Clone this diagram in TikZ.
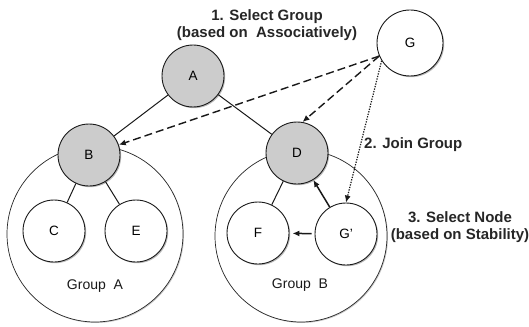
\documentclass[tikz,border=0pt]{standalone}
\usepackage{fontspec}
\setmainfont{Liberation Sans}
\usetikzlibrary{arrows.meta,shadows}
\begin{document}
\begin{tikzpicture}[x=1pt,y=-1pt,
  member/.style={circle,draw=black!90,line width=0.9pt,fill=white,inner sep=0pt,
    minimum size=62pt,font=\fontsize{13.5}{16}\selectfont,
    drop shadow={shadow xshift=1.2pt,shadow yshift=-1.2pt,opacity=0.45,fill=black!60}},
  head/.style={member,fill=black!20},
  group/.style={circle,draw=black!85,line width=0.7pt,fill=white,inner sep=0pt,
    drop shadow={shadow xshift=1pt,shadow yshift=-1pt,opacity=0.35,fill=black!60}},
  link/.style={draw=black!90,line width=1pt},
  tip/.style={-{Latex[length=7pt,width=6pt]}},
  caption/.style={font=\fontsize{15}{17}\selectfont\bfseries,text=black!85,align=center,inner sep=0pt},
  grouplabel/.style={font=\fontsize{14}{16}\selectfont,text=black!90,inner sep=0pt}
]
\useasboundingbox (0,0) rectangle (529,326);

% group boundaries
\node[group,minimum size=176pt] (grpA) at (95,234) {};
\node[group,minimum size=172pt] (grpB) at (301,236) {};

% cluster heads and members
\node[head] (A) at (193,76) {A};
\node[head] (B) at (89,155) {B};
\node[head] (D) at (297,153) {D};
\node[member] (C) at (54,231) {C};
\node[member] (E) at (136,231) {E};
\node[member] (F) at (258,233) {F};
\node[member] (Gp) at (346,234) {G’};
\node[member,minimum size=66pt] (G) at (410,43) {G};

% tree links
\draw[link] (A) -- (B);
\draw[link] (A) -- (D);
\draw[link] (B) -- (C);
\draw[link] (B) -- (E);
\draw[link] (D) -- (F);

% steps of joining
\draw[link,tip,dash pattern=on 8pt off 4pt,line width=1.4pt] (G.203) -- (B);
\draw[link,tip,dash pattern=on 8pt off 4pt,line width=1.4pt] (G.203) -- (D.80);
\draw[link,tip,dash pattern=on 1.3pt off 1.3pt,line width=1.2pt] (G.212) -- (Gp.north);
\draw[link,tip,line width=1.5pt] (Gp) -- (D);
\draw[link,tip,line width=1.5pt,shorten >=3pt,shorten <=3pt] (Gp) -- (F);

% labels
\node[caption] (lbl1) at (267,25) {1. Select Group\\(based on~~Associatively)};
\node[caption,anchor=west] (lbl2) at (364,145) {2. Join Group};
\node[caption] (lbl3) at (460,227) {3. Select Node\\(based on Stability)};
\node[grouplabel] (labA) at (95,286) {Group~~A};
\node[grouplabel] (labB) at (300,285) {Group~~B};
\end{tikzpicture}
\end{document}
